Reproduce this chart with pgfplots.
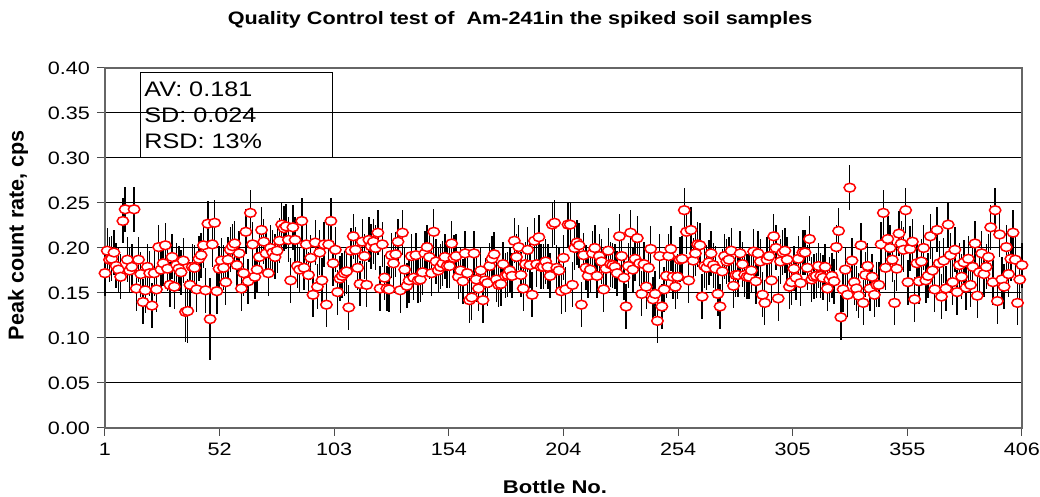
\documentclass[border=0pt]{standalone}
\usepackage{fontspec}
\setmainfont{Liberation Sans}[FakeStretch=1.2]
\newfontfamily\ylabfont{Liberation Sans}
\usepackage{pgfplots}
\pgfplotsset{compat=1.18}
\usepackage{pgfplotstable}

\pgfplotstableread[row sep=\\, header=false]{
0.172\\0.197\\0.187\\0.188\\0.195\\0.180\\0.176\\0.168\\0.230\\0.243\\
0.187\\0.175\\0.179\\0.243\\0.155\\0.187\\0.171\\0.140\\0.153\\0.179\\
0.172\\0.136\\0.172\\0.154\\0.201\\0.176\\0.183\\0.203\\0.177\\0.159\\
0.190\\0.157\\0.181\\0.177\\0.173\\0.186\\0.129\\0.130\\0.159\\0.179\\
0.178\\0.154\\0.188\\0.192\\0.203\\0.153\\0.227\\0.121\\0.204\\0.228\\
0.152\\0.177\\0.186\\0.178\\0.162\\0.187\\0.198\\0.202\\0.205\\0.181\\
0.194\\0.155\\0.172\\0.218\\0.163\\0.239\\0.204\\0.168\\0.176\\0.190\\
0.220\\0.207\\0.194\\0.172\\0.200\\0.195\\0.190\\0.197\\0.208\\0.226\\
0.222\\
0.224\\0.209\\0.164\\0.223\\0.209\\0.180\\0.176\\0.230\\0.178\\0.204\\
0.170\\0.189\\0.148\\0.206\\0.157\\0.195\\0.164\\0.204\\0.137\\0.204\\
0.230\\0.183\\0.198\\0.151\\0.166\\0.169\\0.172\\0.174\\0.134\\0.197\\
0.213\\0.198\\0.178\\0.160\\0.207\\0.191\\0.159\\0.209\\0.202\\0.207\\
0.200\\0.217\\0.155\\0.204\\0.167\\
0.155\\0.154\\0.192\\0.183\\0.193\\0.207\\0.153\\0.217\\0.176\\0.158\\
0.164\\0.191\\0.167\\0.192\\0.164\\0.165\\0.173\\0.194\\0.201\\0.190\\
0.172\\0.218\\0.185\\0.175\\0.179\\0.183\\0.190\\0.180\\0.180\\0.205\\
0.189\\0.191\\0.168\\0.175\\0.163\\0.194\\0.172\\0.142\\0.145\\0.194\\
0.165\\0.155\\0.175\\
0.142\\0.164\\0.161\\0.180\\0.188\\0.193\\0.165\\0.159\\0.160\\0.182\\
0.169\\0.170\\0.175\\0.169\\0.208\\0.190\\0.201\\0.170\\0.155\\0.182\\
0.198\\0.181\\0.148\\0.208\\0.182\\0.212\\0.179\\0.179\\0.185\\0.179\\
0.169\\0.226\\0.228\\0.178\\0.175\\0.152\\0.189\\0.154\\0.226\\0.226\\
0.159\\0.200\\
0.206\\0.203\\0.137\\0.192\\0.178\\0.169\\0.176\\0.194\\0.200\\0.169\\
0.191\\0.185\\0.154\\0.177\\0.197\\0.182\\0.181\\0.179\\0.172\\0.213\\
0.191\\0.167\\0.135\\0.180\\0.217\\0.176\\0.188\\0.211\\0.183\\0.149\\
0.182\\0.157\\0.178\\0.199\\0.143\\0.149\\0.119\\0.191\\0.135\\0.154\\
0.169\\0.191\\
0.199\\0.168\\0.157\\0.168\\0.187\\0.188\\0.242\\0.218\\0.164\\0.220\\
0.186\\0.194\\0.204\\0.203\\0.146\\0.180\\0.178\\0.184\\0.194\\0.181\\
0.177\\0.149\\0.135\\0.174\\0.191\\0.185\\0.187\\0.197\\0.158\\0.170\\
0.170\\0.194\\0.182\\0.170\\0.168\\0.168\\0.175\\0.196\\0.163\\0.194\\
0.185\\0.148\\0.139\\
0.187\\0.191\\0.164\\0.213\\0.200\\0.144\\0.185\\0.195\\0.197\\0.187\\
0.157\\0.162\\0.177\\0.167\\0.188\\0.161\\0.195\\0.195\\0.178\\0.210\\
0.165\\0.168\\0.169\\0.180\\0.169\\0.167\\0.179\\0.155\\0.165\\0.169\\
0.163\\0.201\\0.219\\0.123\\0.154\\0.176\\0.148\\0.267\\0.186\\0.162\\
0.155\\
0.147\\0.203\\0.139\\0.170\\0.180\\0.155\\0.168\\0.148\\0.159\\0.159\\
0.204\\0.239\\0.178\\0.210\\0.200\\0.187\\0.139\\0.177\\0.216\\0.205\\
0.198\\0.242\\0.162\\0.199\\0.207\\0.143\\0.183\\0.163\\0.185\\0.200\\
0.164\\0.169\\0.213\\0.175\\0.154\\0.220\\0.183\\0.146\\0.186\\0.155\\
0.226\\0.192\\0.162\\0.198\\
0.151\\0.181\\0.168\\0.184\\0.156\\0.188\\0.159\\0.179\\0.205\\0.147\\
0.173\\0.194\\0.171\\0.179\\0.190\\0.223\\0.162\\0.242\\0.141\\0.215\\
0.165\\0.157\\0.201\\0.171\\0.188\\0.217\\0.187\\0.139\\0.165\\0.181\\
}\qcdata

\begin{document}
\begin{tikzpicture}
\useasboundingbox (-52.5pt,-34.5pt) rectangle (467.5pt,214pt);
\begin{axis}[
  width=458.5pt, height=180pt, scale only axis,
  xmin=1, xmax=411, ymin=0, ymax=0.4,
  clip=false,
  xtick={1,52.25,103.5,154.75,206,257.25,308.5,359.75,411},
  xticklabels={1,52,103,154,204,254,305,355,406},
  ytick={0,0.05,0.1,0.15,0.2,0.25,0.3,0.35,0.4},
  yticklabels={0.00,0.05,0.10,0.15,0.20,0.25,0.30,0.35,0.40},
  tick label style={font=\fontsize{9}{10}\selectfont},
  xtick pos=bottom, ytick pos=left,
  tick align=outside, major tick length=4pt,
  tick style={black!70, line width=0.5pt},
  ymajorgrids, grid style={black, line width=0.5pt},
  axis line style={black!60, line width=0.7pt},
]
% error bars first, so that the markers lie on top of them
\addplot[draw=none, mark=none, forget plot,
  error bars/.cd, y dir=both, y explicit, error mark=none,
  error bar style={black, line width=0.7pt}]
  coordinates {(48,0.121) +- (0,0.046) (37,0.129) +- (0,0.034) (38,0.130) +- (0,0.036)};
\addplot[draw=none, mark=none, forget plot,
  error bars/.cd, y dir=both, y fixed=0.025, error mark=none,
  error bar style={black, line width=0.7pt}]
  table[x expr=\coordindex+1, y index=0] {\qcdata};
\addplot[only marks, mark=*, mark size=2.2pt,
  mark options={draw=red, fill=white, line width=0.75pt, xscale=1.3}]
  table[x expr=\coordindex+1, y index=0] {\qcdata};
\node[draw=black, line width=0.6pt, anchor=north west, align=left,
  inner sep=2pt, text width=92pt, minimum height=42.5pt,
  font=\fontsize{10.5}{13}\selectfont] at (rel axis cs:0.038,0.989)
  {AV: 0.181\\SD: 0.024\\RSD: 13\%};
\node[font=\bfseries\fontsize{9}{11}\selectfont] at (rel axis cs:0.4526,1.135)
  {Quality Control test of\ \ Am-241in the spiked soil samples};
\node[font=\bfseries\fontsize{9.2}{11}\selectfont] at (rel axis cs:0.4907,-0.164) {Bottle No.};
\node[rotate=90, font=\ylabfont\bfseries\fontsize{10.8}{12}\selectfont] at (rel axis cs:-0.0949,0.536) {Peak count rate, cps};
\end{axis}
\end{tikzpicture}
\end{document}
